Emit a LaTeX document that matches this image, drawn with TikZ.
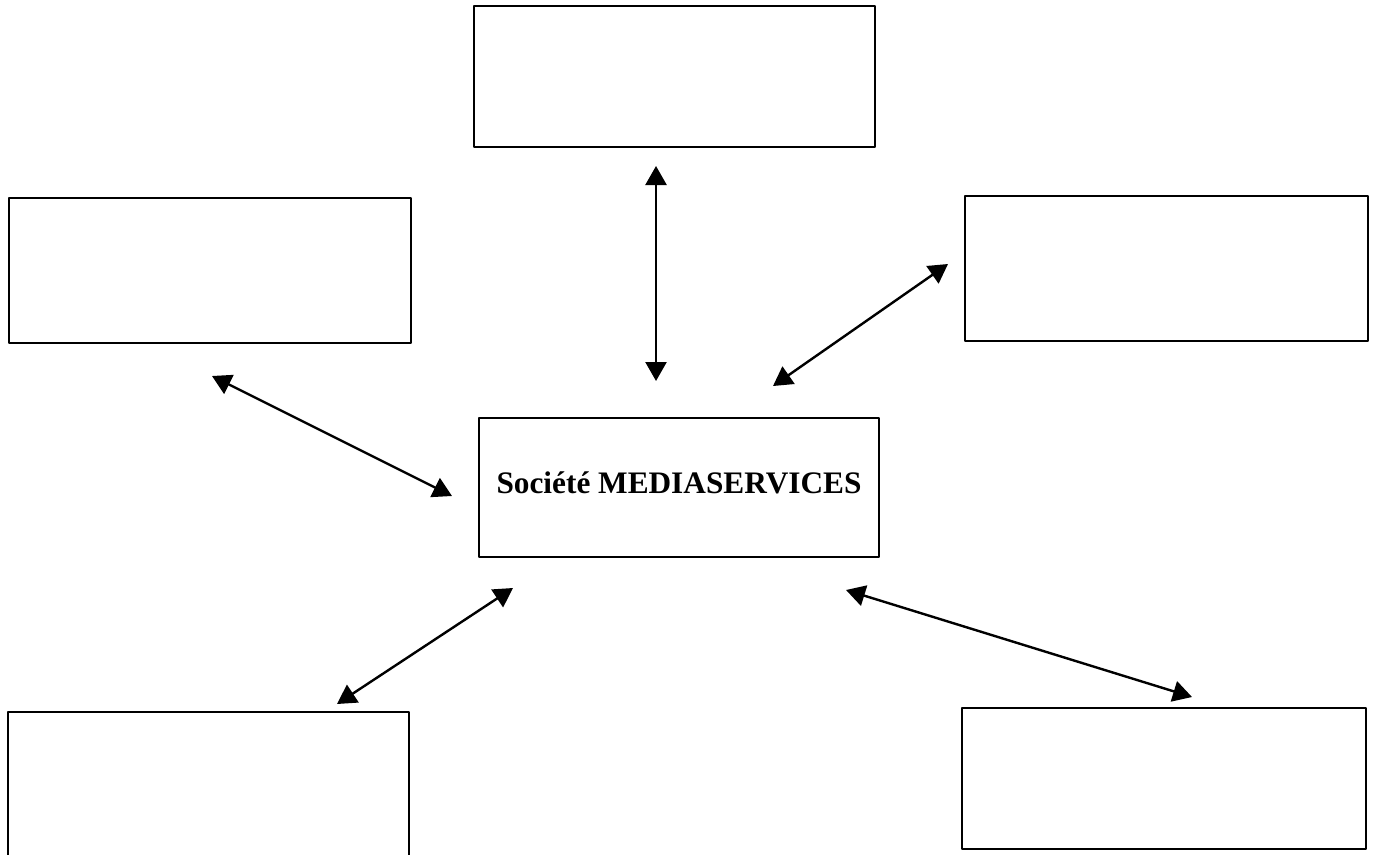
\documentclass[tikz,border=0pt]{standalone}
\usepackage{fontspec}
\setmainfont{Liberation Serif}
\usetikzlibrary{arrows.meta}
\begin{document}
\begin{tikzpicture}[x=1pt,y=-1pt,
  box/.style={draw=black,line width=2.8pt,line join=round},
  link/.style={line width=2.4pt,{Triangle[length=19pt,width=21pt]}-{Triangle[length=19pt,width=21pt]}}]
\useasboundingbox (0,0) rectangle (1376,854);
\fill[white] (0,0) rectangle (1376,854);
% boxes
\draw[box] (474,6) rectangle (875,147);
\draw[box] (9,198) rectangle (411,343);
\draw[box] (965,196) rectangle (1368,341);
\draw[box] (479,418) rectangle (879,557);
\draw[box] (8,712) rectangle (409,870);
\draw[box] (962,708) rectangle (1366,849);
\node[anchor=base,font=\bfseries,inner sep=0pt] (label) at (679,493) {\fontsize{31.3}{36}\selectfont Société MEDIASERVICES};
% arrow end coordinates
\coordinate (a1) at (656,166);
\coordinate (a2) at (656,381);
\coordinate (b1) at (212,376);
\coordinate (b2) at (452,496);
\coordinate (c1) at (948,264);
\coordinate (c2) at (773,386);
\coordinate (d1) at (337,704);
\coordinate (d2) at (513,588);
\coordinate (e1) at (846,590);
\coordinate (e2) at (1192,697);
\draw[link] (a1) -- (a2);
\draw[link] (b1) -- (b2);
\draw[link] (c1) -- (c2);
\draw[link] (d1) -- (d2);
\draw[link] (e1) -- (e2);
\end{tikzpicture}
\end{document}
